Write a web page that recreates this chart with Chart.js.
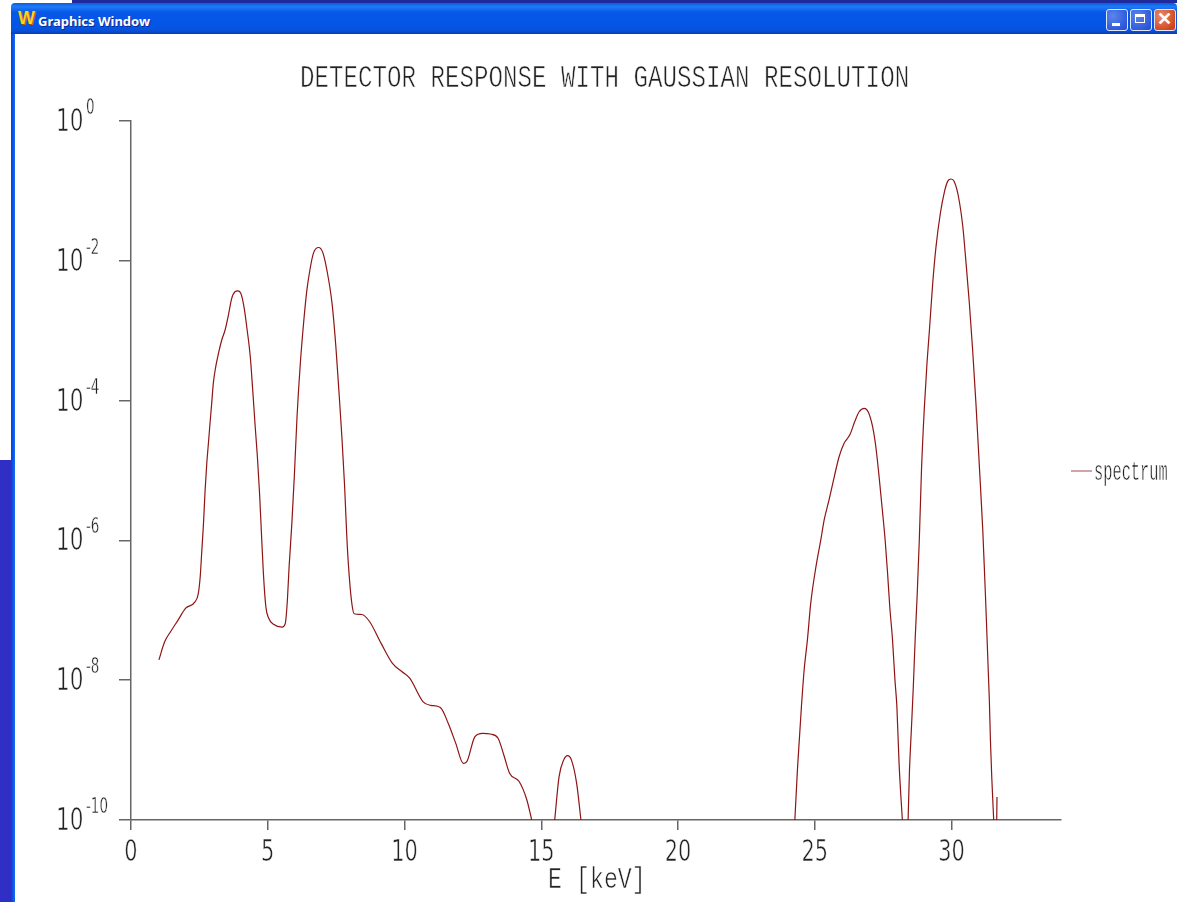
<!DOCTYPE html>
<html>
<head>
<meta charset="utf-8">
<title>Graphics Window</title>
<script src="https://cdn.jsdelivr.net/npm/chart.js@4/dist/chart.umd.min.js"></script>
<style>
html, body { margin: 0; padding: 0; width: 1177px; height: 902px; overflow: hidden; background: #fff; }
#topStrip { position: absolute; left: 72px; top: 0; width: 1105px; height: 3px; background: #1f2a9c; }
#desktop { position: absolute; left: 0; top: 460px; width: 11px; height: 442px; background: #2f2fc6; }
#win { position: absolute; left: 11px; top: 3px; width: 1166px; height: 899px; background: #fff; border-radius: 4px 4px 0 0; overflow: hidden; }
#titlebar { position: absolute; left: 0; top: 0; width: 100%; height: 31px;
  background: linear-gradient(#0a5be0 0%, #1f7bf5 12%, #0758e8 30%, #0455e6 75%, #0a50d8 90%, #0a3cb0 100%); }
#edge { position: absolute; left: 0; top: 31px; width: 4px; height: 868px; background: linear-gradient(90deg, #0a3fd0, #0a55e8 50%, #1a6cf5); }
#icon { position: absolute; left: 7px; top: 5px; font: 900 18px "Liberation Sans"; color: #ffd21e; text-shadow: 1px 1px 0 #b85a00; }
#wintitle { position: absolute; left: 27px; top: 10px; font: bold 13px "Noto Sans"; color: #fff; text-shadow: 1px 1px 0 #0a2a90; line-height: 16px; }
.btn { position: absolute; top: 6px; width: 20px; height: 20px; border: 1px solid #dfe8fb; border-radius: 3px; background: radial-gradient(circle at 30% 30%, #5a86ec, #2a55d8 80%); }
.btn.close { background: radial-gradient(circle at 30% 30%, #e88a6a, #d0431c 80%); }
.btn i { position: absolute; display: block; }
#canvasWrap { position: absolute; left: 15px; top: 34px; width: 1162px; height: 868px; }
</style>
</head>
<body>
<div id="topStrip"></div>
<div id="desktop"></div>
<div id="win">
  <div id="titlebar">
    <span id="icon">W</span><span id="wintitle">Graphics Window</span>
    <div class="btn" style="left:1095px"><i style="left:5px;top:13px;width:8px;height:3px;background:#fff"></i></div>
    <div class="btn" style="left:1119px"><i style="left:4px;top:4px;width:10px;height:9px;border:1px solid #fff;border-top-width:3px;box-sizing:border-box;"></i></div>
    <div class="btn close" style="left:1143px"><i style="left:2px;top:-2px;font:bold 18px 'Liberation Sans';color:#fff;line-height:22px">✕</i></div>
  </div>
  <div id="edge"></div>
</div>
<div id="canvasWrap"><canvas id="chart" width="1162" height="868"></canvas></div>

<script>
const chartTitle = "DETECTOR RESPONSE WITH GAUSSIAN RESOLUTION";
const xAxisTitle = "E [keV]";
const seriesName = "spectrum";

const xTickValues = [0, 5, 10, 15, 20, 25, 30];
const yTickValues = [1, 1e-2, 1e-4, 1e-6, 1e-8, 1e-10];
const yTickExponents = ["0", "-2", "-4", "-6", "-8", "-10"];

// null = curve is below the axis
const energies = [
  1.02, 1.23, 1.44, 1.72, 2.0, 2.34, 2.46, 2.53, 2.59, 2.65, 2.71, 2.77, 2.83, 2.89, 2.95, 3.01, 3.10, 3.20, 3.32, 3.44,
  3.56, 3.68, 3.81, 3.90, 4.01, 4.14, 4.23, 4.36, 4.45, 4.54, 4.62, 4.70, 4.78, 4.84, 4.93, 5.03, 5.21, 5.52, 5.64, 5.71,
  5.78, 5.88, 5.97, 6.07, 6.19, 6.31, 6.43, 6.55, 6.67, 6.86, 7.01, 7.16, 7.35, 7.49, 7.59, 7.71, 7.81, 7.89, 7.98, 8.08,
  8.16, 8.44, 8.72, 9.14, 9.56, 9.91, 10.19, 10.68, 10.96, 11.31, 11.6, 11.87, 12.15, 12.27, 12.57, 12.86, 13.14, 13.42, 13.63, 13.84,
  14.19, 14.47, 14.65, 15.0, 15.49, 15.65, 15.82, 15.96, 16.1, 16.29, 16.45, 20.0,
  24.27, 24.37, 24.51, 24.61, 24.73, 24.85, 25.04, 25.22, 25.34, 25.52, 25.71, 25.89, 26.07, 26.28, 26.46, 26.62, 26.81, 26.95, 27.11, 27.23,
  27.35, 27.47, 27.57, 27.66, 27.74, 27.84, 27.93, 28.0, 28.08, 28.2, 28.3,
  28.41, 28.46, 28.53, 28.6, 28.67, 28.74, 28.82, 28.9, 29.0, 29.1, 29.19, 29.31, 29.43, 29.59, 29.74, 29.86, 29.98, 30.1, 30.25,
  30.41, 30.53, 30.65, 30.77, 30.89, 31.01, 31.14, 31.2, 31.38, 31.42, 31.47, 31.54, 31.6, 31.65, 31.66
];
const log10Response = [
  -7.71, -7.45, -7.31, -7.14, -6.97, -6.88, -6.76, -6.52, -6.14, -5.76, -5.28, -4.90, -4.61, -4.32, -4.04, -3.75, -3.51, -3.32, -3.13, -2.99,
  -2.78, -2.54, -2.44, -2.43, -2.46, -2.68, -2.94, -3.37, -3.85, -4.37, -4.80, -5.33, -5.99, -6.47, -6.95, -7.11, -7.20, -7.24, -7.19, -6.90,
  -6.38, -5.76, -5.09, -4.23, -3.47, -2.89, -2.42, -2.11, -1.89, -1.81, -1.88, -2.13, -2.61, -3.23, -3.80, -4.52, -5.23, -5.95, -6.52, -6.92,
  -7.05, -7.06, -7.16, -7.47, -7.76, -7.88, -7.97, -8.31, -8.36, -8.39, -8.62, -8.90, -9.19, -9.17, -8.81, -8.76, -8.77, -8.83, -9.07, -9.33,
  -9.45, -9.71, -10, null, -10, -9.38, -9.14, -9.08, -9.14, -9.47, -10, null,
  -10, -9.24, -8.38, -7.85, -7.42, -6.90, -6.38, -5.99, -5.71, -5.42, -5.09, -4.80, -4.61, -4.49, -4.30, -4.16, -4.11, -4.16, -4.37, -4.66,
  -5.09, -5.57, -5.99, -6.47, -6.95, -7.42, -8.0, -8.38, -9.19, -10, null,
  -10, -9.3, -8.7, -8.1, -7.4, -6.8, -5.99, -4.99, -4.13, -3.47, -2.99, -2.32, -1.80, -1.32, -1.01, -0.86, -0.83, -0.87, -1.08,
  -1.51, -2.04, -2.61, -3.28, -4.04, -4.90, -5.85, -6.42, -8.28, -8.86, -9.4, -10, null, -10, -9.67
];

const MONO = '24px "Liberation Mono"';
const DIGITS = '24px "DejaVu Sans"';

// scilab stretches its fonts, so labels go through ctx.scale.
// the white stroke thins the glyphs down to its hairline look
function stretchText(ctx, text, font, x, baseline, sx, sy, align) {
  ctx.save();
  ctx.font = font;
  ctx.textAlign = "left";
  ctx.textBaseline = "alphabetic";
  ctx.fillStyle = "#222";
  ctx.strokeStyle = "#fff";
  ctx.lineWidth = 0.5;
  const w = ctx.measureText(text).width * sx;
  const left = align === "center" ? x - w / 2 : x;
  ctx.translate(left, baseline);
  ctx.scale(sx, sy);
  ctx.fillText(text, 0, 0);
  ctx.strokeText(text, 0, 0);
  ctx.restore();
}

const scilabText = {
  id: "scilabText",
  afterDraw(chart) {
    const ctx = chart.ctx;
    const xs = chart.scales.x;
    const ys = chart.scales.y;

    stretchText(ctx, chartTitle, MONO, 285, 53, 1.007, 1.27);
    xTickValues.forEach((v) => {
      stretchText(ctx, String(v), DIGITS, xs.getPixelForValue(v), 827, 0.87, 1.27, "center");
    });
    yTickValues.forEach((v, i) => {
      const py = ys.getPixelForValue(v);
      stretchText(ctx, "10", DIGITS, 41, py + 10, 0.9, 1.3);
      stretchText(ctx, yTickExponents[i], DIGITS, 71, py - 7, 0.56, 0.88);
    });
    stretchText(ctx, xAxisTitle, MONO, 533, 854, 0.97, 1.2);

    // legend
    ctx.save();
    ctx.strokeStyle = "#b46a6a";
    ctx.lineWidth = 1.2;
    ctx.beginPath();
    ctx.moveTo(1056, 437);
    ctx.lineTo(1077, 437);
    ctx.stroke();
    ctx.restore();
    stretchText(ctx, chart.data.datasets[0].label, MONO, 1079, 446, 0.64, 1.18);
  },
};

new Chart(document.getElementById("chart"), {
  type: "line",
  data: {
    datasets: [
      {
        label: seriesName,
        data: energies.map((e, i) => ({ x: e, y: log10Response[i] === null ? null : Math.pow(10, log10Response[i]) })),
        borderColor: "#8f1414",
        borderWidth: 1.2,
        pointRadius: 0,
        cubicInterpolationMode: "monotone",
        spanGaps: false,
      },
    ],
  },
  options: {
    responsive: false,
    animation: false,
    layout: { padding: { left: 0, top: 87, right: 116, bottom: 0 } },
    plugins: { legend: { display: false }, title: { display: false }, tooltip: { enabled: false } },
    scales: {
      x: {
        type: "linear",
        min: 0,
        max: 34,
        afterBuildTicks: (scale) => { scale.ticks = xTickValues.map((v) => ({ value: v })); },
        afterFit: (scale) => { scale.height = 82; },
        ticks: { display: false },
        grid: { drawOnChartArea: false, drawTicks: true, tickLength: 10, tickColor: "#666", lineWidth: 1.5 },
        border: { color: "#666", width: 1.5 },
      },
      y: {
        type: "logarithmic",
        min: 1e-10,
        max: 1,
        afterBuildTicks: (scale) => { scale.ticks = yTickValues.map((v) => ({ value: v })); },
        afterFit: (scale) => { scale.width = 116; },
        ticks: { display: false },
        grid: { drawOnChartArea: false, drawTicks: true, tickLength: 12, tickColor: "#666", lineWidth: 1.5 },
        border: { color: "#666", width: 1.5 },
      },
    },
  },
  plugins: [scilabText],
});
</script>
</body>
</html>
